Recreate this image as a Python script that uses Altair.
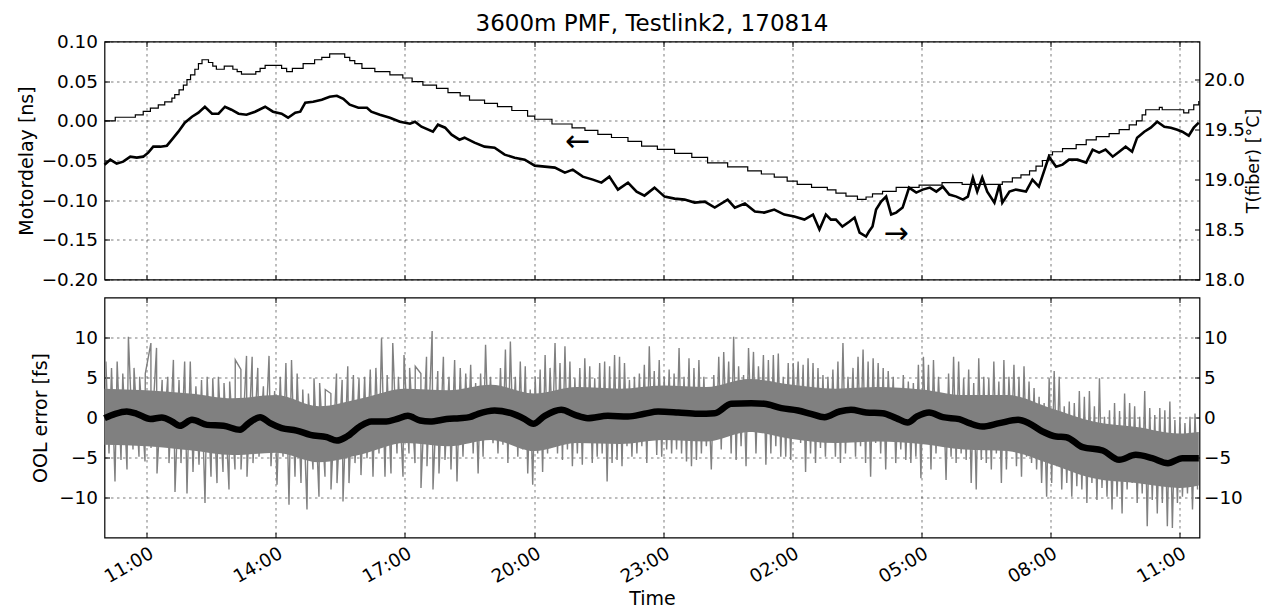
import altair as alt
import numpy as np
import pandas as pd

FONT = "DejaVu Sans"
BASE = pd.Timestamp("2017-08-14 10:00:00")

# ---------------- data (minutes after 2017-08-14 10:00) ----------------
# Motordelay [ns] (thin stepped line, left axis)
md_min = [1, 16, 44, 55, 65, 76, 85, 95, 99, 105, 111, 116, 121, 127, 132, 137, 146, 152, 157, 168,
          180, 186, 192, 212, 218, 225, 248, 255, 263, 278, 294, 304, 315, 336, 343, 350, 360, 378,
          399, 417, 430, 445, 464, 480, 497, 510, 531, 549, 569, 591, 601, 625, 653, 671, 689, 708,
          731, 750, 772, 796, 820, 842, 870, 898, 917, 935, 953, 967, 987, 1009, 1021, 1035, 1051,
          1063, 1072, 1086, 1105, 1137, 1169, 1197, 1253, 1267, 1279, 1291, 1300, 1309, 1318, 1323,
          1337, 1356, 1370, 1384, 1402, 1416, 1430, 1440, 1448, 1453, 1472, 1476, 1506, 1513, 1520, 1527]
md_ns = [0.000, 0.0045, 0.0075, 0.012, 0.016, 0.020, 0.024, 0.0285, 0.033, 0.039, 0.045, 0.052, 0.058,
         0.065, 0.072, 0.077, 0.0735, 0.069, 0.065, 0.069, 0.065, 0.062, 0.059, 0.062, 0.066, 0.070,
         0.066, 0.062, 0.066, 0.072, 0.077, 0.080, 0.0845, 0.080, 0.076, 0.072, 0.066, 0.062, 0.058,
         0.054, 0.0495, 0.045, 0.041, 0.0355, 0.0315, 0.026, 0.022, 0.018, 0.013, 0.006, 0.002, -0.004,
         -0.009, -0.012, -0.017, -0.021, -0.026, -0.032, -0.036, -0.041, -0.046, -0.053, -0.058, -0.063,
         -0.067, -0.071, -0.076, -0.080, -0.084, -0.087, -0.091, -0.095, -0.099, -0.096, -0.092, -0.089,
         -0.084, -0.081, -0.078, -0.080, -0.077, -0.072, -0.068, -0.063, -0.057, -0.050, -0.043, -0.039,
         -0.035, -0.030, -0.024, -0.020, -0.016, -0.011, -0.005, 0.000, 0.0075, 0.014, 0.017, 0.014,
         0.010, 0.014, 0.020, 0.025]

# T(fiber) [deg C] (thick noisy line, right axis)
temp_min = [1, 9, 18, 27, 37, 46, 55, 62, 69, 79, 88, 95, 104, 113, 123, 132, 141, 151, 160, 169, 178,
            188, 199, 211, 225, 236, 248, 257, 267, 274, 281, 292, 304, 315, 325, 334, 343, 355, 367,
            373, 385, 399, 413, 427, 434, 443, 459, 466, 476, 485, 496, 503, 517, 531, 545, 559, 573,
            587, 601, 615, 629, 643, 654, 668, 682, 694, 705, 717, 731, 743, 754, 768, 782, 796, 810,
            824, 838, 852, 870, 880, 894, 908, 921, 935, 949, 963, 977, 989, 998, 1007, 1014, 1021,
            1030, 1040, 1047, 1054, 1063, 1067, 1072, 1077, 1084, 1091, 1098, 1105, 1114, 1123, 1133,
            1142, 1152, 1161, 1170, 1179, 1189, 1198, 1205, 1212, 1218, 1225, 1232, 1242, 1249, 1253,
            1263, 1272, 1286, 1295, 1304, 1311, 1318, 1328, 1337, 1346, 1358, 1370, 1379, 1388, 1397,
            1407, 1416, 1425, 1434, 1441, 1451, 1460, 1469, 1479, 1488, 1497, 1504, 1513, 1520, 1527]
temp_c = [19.15, 19.20, 19.16, 19.18, 19.23, 19.22, 19.23, 19.27, 19.33, 19.33, 19.34, 19.40, 19.48,
          19.57, 19.63, 19.67, 19.73, 19.66, 19.66, 19.73, 19.70, 19.66, 19.65, 19.68, 19.73, 19.68,
          19.66, 19.62, 19.67, 19.68, 19.77, 19.78, 19.80, 19.83, 19.84, 19.81, 19.75, 19.72, 19.72,
          19.68, 19.65, 19.62, 19.58, 19.56, 19.58, 19.53, 19.48, 19.55, 19.52, 19.45, 19.40, 19.42,
          19.37, 19.33, 19.32, 19.25, 19.22, 19.20, 19.14, 19.13, 19.12, 19.07, 19.10, 19.03, 19.00,
          18.97, 19.03, 18.90, 18.97, 18.88, 18.84, 18.92, 18.83, 18.81, 18.80, 18.77, 18.78, 18.72,
          18.80, 18.72, 18.76, 18.68, 18.67, 18.70, 18.65, 18.63, 18.60, 18.65, 18.50, 18.65, 18.60,
          18.60, 18.53, 18.58, 18.62, 18.47, 18.43, 18.48, 18.53, 18.70, 18.78, 18.83, 18.65, 18.67,
          18.72, 18.92, 18.87, 18.90, 18.92, 18.88, 18.93, 18.85, 18.83, 18.80, 18.83, 19.02, 18.88,
          19.02, 18.88, 18.77, 18.95, 18.77, 18.88, 18.90, 18.88, 19.00, 18.93, 19.08, 19.23, 19.13,
          19.15, 19.20, 19.20, 19.17, 19.30, 19.27, 19.30, 19.23, 19.28, 19.33, 19.28, 19.42, 19.48,
          19.52, 19.58, 19.53, 19.52, 19.50, 19.48, 19.44, 19.52, 19.57]

# OOL error, smoothed (thick black line)
smooth_min = [1, 16, 32, 46, 65, 81, 95, 106, 123, 144, 167, 190, 202, 218, 232, 248, 269, 288, 311,
              325, 339, 357, 373, 394, 408, 424, 441, 455, 478, 496, 510, 522, 545, 568, 587, 599, 615,
              638, 657, 675, 703, 731, 754, 773, 801, 828, 852, 875, 903, 921, 945, 968, 986, 1005,
              1026, 1042, 1063, 1086, 1105, 1121, 1134, 1151, 1170, 1193, 1207, 1225, 1249, 1275, 1290,
              1309, 1328, 1342, 1365, 1393, 1416, 1439, 1462, 1484, 1504, 1527]
smooth_fs = [-0.08, 0.46, 0.75, 0.46, -0.2, 0.0, -0.5, -1.04, -0.29, -0.92, -1.04, -1.54, -0.71, 0.04,
             -0.71, -1.33, -1.63, -2.17, -2.46, -2.88, -2.38, -1.13, -0.5, -0.5, -0.2, 0.21, -0.38, -0.5,
             -0.2, -0.08, 0.04, 0.46, 0.88, 0.54, -0.2, -0.79, 0.21, 0.96, 0.33, -0.08, 0.21, 0.13, 0.46,
             0.75, 0.63, 0.46, 0.54, 1.71, 1.79, 1.71, 1.17, 0.88, 0.46, 0.04, 0.75, 0.96, 0.63, 0.54,
             -0.08, -0.63, 0.13, 0.63, 0.04, -0.2, -0.71, -1.13, -0.71, -0.29, -0.71, -1.75, -2.38,
             -2.46, -3.71, -4.13, -5.29, -4.67, -5.08, -5.71, -5.08, -5.08]

# OOL error raw trace: limits of the dense grey band
core_min = [1, 60, 120, 180, 240, 300, 360, 420, 480, 540, 600, 660, 720, 780, 840, 900, 960, 1020,
            1080, 1140, 1200, 1260, 1320, 1380, 1440, 1500, 1527]
core_hi = [3.6, 3.4, 3.0, 2.4, 2.8, 1.4, 2.4, 3.6, 3.4, 4.1, 3.0, 3.8, 3.6, 4.0, 3.8, 4.8, 4.1, 3.6,
           3.8, 3.5, 2.8, 2.8, 1.2, -0.5, -1.2, -2.0, -1.8]
core_lo = [-3.4, -3.6, -4.1, -4.7, -4.4, -5.6, -4.6, -3.2, -3.6, -2.8, -4.2, -3.2, -3.3, -2.8, -3.0,
           -1.8, -2.7, -3.2, -3.0, -3.3, -4.0, -4.2, -5.8, -7.6, -8.2, -8.8, -8.5]

# OOL error raw trace [fs]: upper and lower excursions, read in three time segments
ool_seg_edges = [1, 503, 1015, 1527]
ool_hi_1 = [7.0, 6.2, 7.0, 5.5, 10.1, 6.2, 5.1, 5.5, 9.3, 8.7, 4.7, 5.1, 7.2, 4.7, 7.0, 7.0, 3.9, 4.7,
            5.1, 4.9, 5.1, 4.3, 4.5, 7.2, 6.0, 7.7, 7.6, 6.2, 3.9, 7.7, 3.3, 5.1, 6.8, 7.2, 5.5, 3.5,
            3.0, 4.9, 4.3, 3.5, 3.0, 5.5, 4.7, 6.4, 5.3, 4.9, 5.1, 6.0, 6.2, 9.9, 5.3, 9.3, 5.1, 7.8,
            6.2, 6.4, 5.5, 7.6, 10.8, 5.8, 7.6, 5.1, 7.2, 6.2]
ool_lo_1 = [-4.5, -8.0, -5.3, -6.5, -4.0, -4.9, -5.5, -3.8, -7.0, -3.2, -5.7, -9.3, -5.7, -9.5, -6.8,
            -5.9, -10.7, -7.4, -8.2, -6.8, -9.0, -6.5, -6.5, -7.4, -5.7, -4.9, -4.0, -6.1, -8.4, -4.9,
            -10.9, -7.4, -8.2, -11.5, -6.5, -9.9, -7.4, -9.0, -8.2, -10.5, -8.2, -5.7, -7.2, -5.1, -7.4,
            -4.5, -7.4, -7.0, -4.5, -7.4, -4.5, -5.7, -8.8, -6.1, -9.0, -7.0, -5.3, -6.5, -8.0, -4.9]
ool_hi_2 = [5.5, 6.6, 4.3, 5.5, 9.1, 5.1, 3.9, 6.2, 8.5, 9.5, 5.1, 7.0, 6.4, 3.5, 5.1, 6.0, 7.8, 6.2,
            9.3, 6.8, 8.9, 7.0, 4.9, 6.2, 7.4, 6.4, 4.9, 6.8, 7.0, 6.4, 7.8, 7.6, 6.8, 4.7, 5.1, 5.5,
            6.6, 8.9, 5.8, 7.2, 5.1, 6.0, 5.5, 8.7, 5.1, 7.4, 6.2, 7.2, 5.1, 2.2, 5.3, 7.6, 8.2, 7.0,
            10.1, 6.4, 5.3, 8.7, 8.2, 6.4, 7.8, 7.2, 7.8, 8.0, 5.1, 6.8, 6.8, 7.0, 6.6, 7.4, 6.8, 6.2,
            5.3, 5.1]
ool_lo_2 = [-2.8, -4.5, -7.0, -4.9, -1.1, -3.2, -4.5, -3.4, -5.7, -2.0, -4.9, -4.0, -7.0, -8.4, -4.5,
            -6.8, -4.5, -2.0, -4.5, -5.3, -4.0, -6.1, -4.5, -5.9, -3.2, -5.7, -4.9, -4.5, -8.0, -5.7,
            -5.3, -6.1, -3.6, -4.9, -4.5, -3.6, -5.7, -2.8, -4.7, -4.9, -4.0, -4.5, -4.0, -4.5, -5.5,
            -6.1, -5.3, -4.5, -3.6, -6.5, -2.8, -4.0, -1.3, -4.5, -5.3, -3.6, -6.1, -0.3, -4.5, -1.1,
            -5.9, -4.5, -3.6, -4.9, -4.9, -5.3, -0.3, -3.2, -6.8, -4.5, -5.7, -3.8, -4.9, -2.8]
ool_hi_3 = [6.0, 7.0, 9.3, 5.1, 6.2, 7.6, 8.5, 7.0, 7.4, 6.8, 6.2, 5.8, 5.1, 2.6, 5.3, 4.5, 4.3, 6.6,
            7.6, 6.6, 7.2, 5.1, 2.6, 5.5, 7.6, 7.0, 4.9, 6.0, 4.3, 7.4, 5.1, 4.9, 7.0, 4.5, 7.2, 5.1,
            6.6, 5.1, 6.4, 4.5, 3.7, 2.6, 1.8, 4.9, 5.8, 5.1, 1.4, 2.0, 1.8, 3.3, 2.6, 3.3, 1.4, 4.9,
            0.1, 0.9, 1.8, 0.8, 3.0, 1.8, 1.4, 0.1, 3.3, 1.2, 0.3, 1.2, 0.9, 2.0, -0.3, 0.1, -0.7, 0.1,
            0.5]
ool_lo_3 = [-4.9, -5.7, -4.5, -1.5, -4.9, -3.6, -5.7, -7.4, -3.2, -4.5, -6.5, -2.0, -5.7, -4.0, -5.3,
            -5.7, -4.9, -7.6, -3.2, -6.5, -4.5, -2.4, -7.8, -4.9, -5.7, -4.5, -5.3, -8.2, -9.0, -5.3,
            -5.7, -6.5, -4.5, -8.2, -6.5, -2.8, -6.1, -7.4, -4.9, -5.7, -6.5, -8.2, -9.9, -8.2, -6.1,
            -9.0, -8.2, -9.9, -8.6, -9.0, -10.7, -8.2, -10.3, -8.8, -9.9, -11.5, -9.9, -12.0, -9.0,
            -8.2, -10.7, -9.5, -13.6, -10.3, -12.0, -10.7, -13.6, -13.8, -10.7, -9.9, -9.5, -11.5, -9.0]

# arrows in the top panel (which axis each curve belongs to)
arrow_txt = ["\u2190", "\u2192"]
arrow_min = [661, 1105]
arrow_ns = [-0.027, -0.143]

xtick_hours = [11, 14, 17, 20, 23, 26, 29, 32, 35]
md_ticks = [-0.20, -0.15, -0.10, -0.05, 0.00, 0.05, 0.10]
temp_ticks = [18.0, 18.5, 19.0, 19.5, 20.0]
ool_ticks = [-10, -5, 0, 5, 10]


# ---------------- build tables ----------------
def ts(mins):
    return BASE + pd.to_timedelta(np.asarray(mins, dtype=float), unit="m")


md_df = pd.DataFrame({"time": ts(md_min), "v": md_ns})
temp_df = pd.DataFrame({"time": ts(temp_min), "v": temp_c})
smooth_df = pd.DataFrame({"time": ts(smooth_min), "v": smooth_fs})
core_df = pd.DataFrame({"time": ts(core_min), "lo": core_lo, "hi": core_hi})
arrow_df = pd.DataFrame({"time": ts(arrow_min), "v": arrow_ns, "txt": arrow_txt})

parts = []
segs = [(ool_hi_1, ool_lo_1), (ool_hi_2, ool_lo_2), (ool_hi_3, ool_lo_3)]
for (hi, lo), a, b in zip(segs, ool_seg_edges[:-1], ool_seg_edges[1:]):
    th = a + (b - a) / len(hi) * (np.arange(len(hi)) + 0.25)
    tl = a + (b - a) / len(lo) * (np.arange(len(lo)) + 0.75)
    parts.append(pd.DataFrame({"m": th, "v": hi}))
    parts.append(pd.DataFrame({"m": tl, "v": lo}))
gray = pd.concat(parts).sort_values("m")
gray_df = pd.DataFrame({"time": ts(gray["m"].values), "v": gray["v"].values})


def dt(h, m=0):
    return alt.DateTime(year=2017, month=8, date=14 + h // 24, hours=h % 24, minutes=m)


xscale = alt.Scale(domain=[dt(10, 1), dt(35, 28)])
xvals = [dt(h) for h in xtick_hours]
md_scale = alt.Scale(domain=[-0.2, 0.1], nice=False, zero=False)
temp_scale = alt.Scale(domain=[18.0, 20.383], nice=False, zero=False)
ool_scale = alt.Scale(domain=[-15, 15], nice=False, zero=False)

grid_kw = dict(gridColor="black", gridDash=[2.5, 3.5], gridOpacity=0.65, gridWidth=0.8)


def tick_axis(orient, values):
    # short inward tick marks (matplotlib classic style)
    return alt.Axis(orient=orient, values=values, offset=-5, tickSize=5, ticks=True, tickColor="black",
                    tickWidth=1, labels=False, domain=False, grid=False, title=None)


x_grid = alt.X("time:T", scale=xscale,
               axis=alt.Axis(orient="bottom", values=xvals, labels=False, ticks=False, domain=False,
                             title=None, grid=True, **grid_kw))
x_lab = alt.X("time:T", scale=xscale,
              axis=alt.Axis(orient="bottom", values=xvals, format="%H:%M", labelAngle=-30,
                            labelAlign="right", labelBaseline="top", labelPadding=6, ticks=False,
                            domain=False, title="Time", titlePadding=4, grid=True, **grid_kw))
x_tick_top = alt.X("time:T", scale=xscale, axis=tick_axis("top", xvals))
x_tick_bot = alt.X("time:T", scale=xscale, axis=tick_axis("bottom", xvals))
x_none = alt.X("time:T", scale=xscale, axis=None)

W, H1, H2 = 1095, 238, 240

# ---------------- top panel ----------------
md_line = alt.Chart(md_df).mark_line(interpolate="step-after", color="black", strokeWidth=1.2).encode(
    x=x_grid,
    y=alt.Y("v:Q", scale=md_scale,
            axis=alt.Axis(orient="left", values=md_ticks, format=".2f", title="Motordelay [ns]",
                          grid=True, labelPadding=7, titlePadding=5, ticks=False, domain=False,
                          **grid_kw)),
)
temp_line = alt.Chart(temp_df).mark_line(color="black", strokeWidth=2.6).encode(
    x=x_tick_top,
    y=alt.Y("v:Q", scale=temp_scale,
            axis=alt.Axis(orient="right", values=temp_ticks, format=".1f", title="T(fiber) [\u00b0C]",
                          grid=False, ticks=False, domain=False, labelPadding=4, titlePadding=0,
                          titleFontSize=17.5, titleAngle=270, titleBaseline="top")),
)
arrows = alt.Chart(arrow_df).mark_text(font=FONT, fontSize=30, color="black", baseline="middle",
                                       align="center").encode(
    x=x_tick_bot,
    y=alt.Y("v:Q", scale=md_scale, axis=tick_axis("left", md_ticks)),
    text="txt:N",
)
temp_ticks_layer = alt.Chart(temp_df).mark_point(opacity=0).encode(
    x=x_none,
    y=alt.Y("v:Q", scale=temp_scale, axis=tick_axis("right", temp_ticks)),
)
top = alt.layer(md_line, temp_line, arrows, temp_ticks_layer).resolve_scale(y="independent").resolve_axis(
    x="independent", y="independent"
).properties(
    width=W, height=H1,
    title=alt.TitleParams("3600m PMF, Testlink2, 170814", font=FONT, fontSize=23,
                          fontWeight="normal", color="black", anchor="middle", frame="group",
                          offset=-3.5),
)

# ---------------- bottom panel ----------------
core_band = alt.Chart(core_df).mark_area(color="#808080", interpolate="monotone").encode(
    x=x_tick_bot,
    y=alt.Y("lo:Q", scale=ool_scale, axis=tick_axis("right", ool_ticks)),
    y2="hi:Q",
)
gray_line = alt.Chart(gray_df).mark_line(color="#808080", strokeWidth=1.4).encode(
    x=x_lab,
    y=alt.Y("v:Q", scale=ool_scale,
            axis=alt.Axis(orient="left", values=ool_ticks, format="d", title="OOL error [fs]",
                          grid=True, ticks=False, domain=False, labelPadding=7, titlePadding=8,
                          **grid_kw)),
)
smooth_line = alt.Chart(smooth_df).mark_line(color="black", strokeWidth=6.5, interpolate="monotone").encode(
    x=x_tick_top,
    y=alt.Y("v:Q", scale=ool_scale,
            axis=alt.Axis(orient="right", values=ool_ticks, format="d", title=None, grid=False,
                          ticks=False, domain=False, labelPadding=4)),
)
ool_ticks_layer = alt.Chart(smooth_df).mark_point(opacity=0).encode(
    x=x_none,
    y=alt.Y("v:Q", scale=ool_scale, axis=tick_axis("left", ool_ticks)),
)
bottom = alt.layer(core_band, gray_line, smooth_line, ool_ticks_layer).resolve_scale(
    y="independent").resolve_axis(x="independent", y="independent").properties(width=W, height=H2)

chart = alt.vconcat(top, bottom, spacing=18, bounds="flush").properties(
    padding={"left": 8.5, "top": 3.5, "right": 0, "bottom": 0}
).configure(font=FONT, background="white").configure_view(
    stroke="black", strokeWidth=1.2
).configure_axis(
    labelFont=FONT, titleFont=FONT, labelFontSize=18.4, titleFontSize=19, labelColor="black",
    titleColor="black", titleFontWeight="normal", zindex=1
)

chart.save("out.html", embed_options={"renderer": "svg", "actions": False})
